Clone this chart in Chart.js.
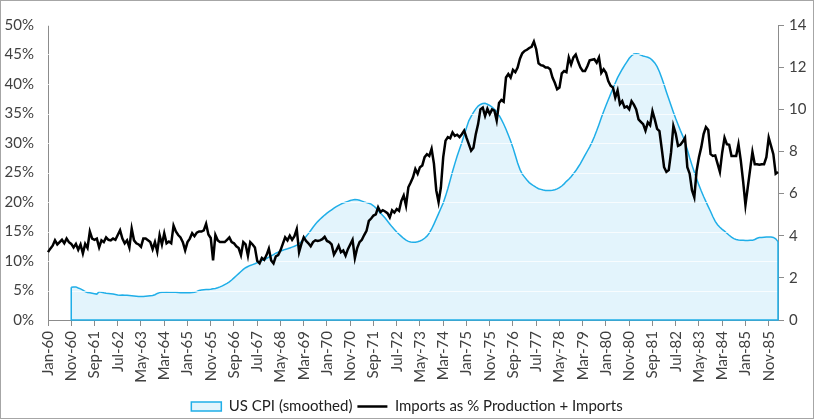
<!DOCTYPE html>
<html>
<head>
<meta charset="utf-8">
<script src="https://cdn.jsdelivr.net/npm/chart.js@4.4.1/dist/chart.umd.min.js"></script>
<style>
  html, body { margin: 0; padding: 0; background: #fff; }
  #wrap { width: 814px; height: 419px; box-sizing: border-box; border: 1px solid #a6a6a6; }
  canvas { display: block; }
</style>
</head>
<body>
<div id="wrap"><canvas id="myChart" width="812" height="417"></canvas></div>
<script>
// month names used to build the category labels Jan-60 ... Mar-86
const monthNames = ['Jan', 'Feb', 'Mar', 'Apr', 'May', 'Jun', 'Jul', 'Aug', 'Sep', 'Oct', 'Nov', 'Dec'];
const firstYear = 60;
const lastYear = 86;
const lastMonth = 2; // Mar-86

// Imports as % of production + imports (left axis, %)
const imports = [
  11.5, 12.1, 12.6, 13.5, 12.8, 13.2, 13.6, 13.0, 13.8, 13.2,
  12.9, 12.3, 12.9, 11.9, 12.8, 11.3, 12.9, 12.2, 15.0, 13.8,
  13.6, 13.8, 12.3, 13.5, 13.2, 14.0, 13.6, 13.5, 13.8, 13.6,
  14.4, 15.2, 13.8, 13.0, 13.5, 12.3, 15.5, 13.5, 13.0, 12.8,
  12.4, 13.8, 13.8, 13.5, 13.2, 12.0, 13.2, 11.6, 14.4, 12.8,
  14.7, 13.0, 13.3, 13.0, 16.0, 15.0, 14.4, 14.0, 13.2, 11.8,
  13.2, 13.8, 14.7, 14.2, 14.8, 15.0, 15.0, 15.2, 16.3, 14.5,
  13.9, 10.1, 14.4, 13.5, 13.2, 13.2, 13.2, 13.6, 14.0, 13.2,
  13.0, 12.5, 12.2, 11.0, 13.2, 12.8, 10.9, 13.2, 12.8, 12.3,
  10.0, 9.6, 10.5, 10.2, 11.0, 12.1, 10.1, 9.6, 10.8, 11.0,
  11.8, 12.9, 14.0, 13.5, 14.3, 13.6, 14.2, 15.4, 11.5, 12.9,
  14.0, 13.4, 13.0, 12.5, 13.2, 13.5, 13.4, 13.5, 13.7, 14.1,
  13.4, 13.2, 12.8, 11.1, 11.8, 12.6, 11.5, 11.8, 10.9, 12.0,
  12.8, 13.6, 10.5, 12.2, 13.2, 13.6, 14.4, 15.1, 16.8, 17.2,
  17.7, 17.9, 19.1, 18.3, 18.6, 18.4, 18.1, 17.4, 18.6, 18.2,
  18.8, 18.5, 20.2, 21.1, 19.4, 22.5, 23.3, 24.2, 25.6, 24.8,
  25.9, 26.2, 27.6, 28.1, 27.8, 29.0, 26.5, 22.0, 20.0, 22.5,
  27.6, 30.4, 31.0, 30.8, 31.8, 31.2, 31.4, 31.0, 31.5, 32.1,
  30.9, 29.8, 28.7, 29.2, 31.5, 33.2, 35.7, 36.0, 34.6, 35.8,
  34.9, 35.7, 35.5, 33.8, 36.8, 37.3, 37.0, 41.1, 41.7, 41.1,
  42.4, 42.0, 42.8, 44.3, 45.2, 45.6, 45.8, 46.1, 46.3, 47.2,
  45.9, 43.5, 43.2, 43.1, 42.8, 42.8, 42.5, 41.1, 40.2, 39.1,
  39.4, 41.8, 42.2, 42.0, 44.5, 43.3, 44.5, 45.0, 43.8, 42.8,
  42.2, 42.2, 43.0, 44.0, 44.1, 44.2, 43.6, 44.5, 41.9, 42.5,
  41.9, 40.5, 39.7, 39.4, 37.7, 38.9, 36.6, 37.1, 36.0, 36.2,
  35.7, 37.1, 36.5, 35.7, 34.0, 33.6, 33.2, 32.1, 33.5, 33.0,
  35.4, 34.0, 32.4, 32.0, 29.0, 25.9, 25.1, 25.4, 28.4, 32.9,
  31.6, 29.5, 29.7, 30.2, 30.9, 25.9, 24.8, 22.0, 20.8, 25.3,
  27.6, 29.3, 31.5, 32.7, 32.2, 28.1, 27.8, 27.9, 26.5, 25.1,
  28.4, 30.9, 29.8, 29.7, 27.8, 27.8, 27.8, 29.8, 27.0, 23.5,
  19.5, 22.5, 25.5, 28.5, 26.4, 26.4, 26.3, 26.4, 26.4, 27.6,
  30.9, 29.5, 28.1, 24.8, 25.1
];

// US CPI, smoothed (right axis)
const cpi = [
  null, null, null, null, null, null, null, null, null, null,
  1.55, 1.57, 1.57, 1.52, 1.48, 1.42, 1.35, 1.30, 1.29, 1.27,
  1.25, 1.23, 1.34, 1.32, 1.29, 1.27, 1.26, 1.25, 1.23, 1.21,
  1.19, 1.18, 1.19, 1.18, 1.17, 1.16, 1.15, 1.14, 1.13, 1.12,
  1.12, 1.12, 1.13, 1.14, 1.15, 1.16, 1.20, 1.26, 1.30, 1.32,
  1.32, 1.33, 1.32, 1.32, 1.32, 1.32, 1.30, 1.29, 1.29, 1.29,
  1.29, 1.29, 1.30, 1.32, 1.35, 1.40, 1.42, 1.44, 1.45, 1.45,
  1.46, 1.48, 1.50, 1.53, 1.57, 1.62, 1.68, 1.74, 1.81, 1.90,
  2.00, 2.10, 2.20, 2.30, 2.40, 2.48, 2.54, 2.59, 2.63, 2.67,
  2.72, 2.76, 2.81, 2.86, 2.92, 2.98, 3.04, 3.10, 3.17, 3.22,
  3.27, 3.31, 3.35, 3.38, 3.42, 3.46, 3.50, 3.55, 3.62, 3.72,
  3.84, 3.96, 4.10, 4.25, 4.40, 4.54, 4.67, 4.78, 4.88, 4.98,
  5.07, 5.15, 5.23, 5.31, 5.38, 5.44, 5.50, 5.55, 5.59, 5.63,
  5.67, 5.70, 5.72, 5.71, 5.68, 5.64, 5.60, 5.57, 5.54, 5.50,
  5.42, 5.32, 5.20, 5.08, 4.96, 4.84, 4.70, 4.56, 4.42, 4.30,
  4.18, 4.07, 3.97, 3.87, 3.79, 3.73, 3.70, 3.69, 3.69, 3.71,
  3.75, 3.80, 3.88, 3.98, 4.12, 4.32, 4.55, 4.80, 5.05, 5.30,
  5.55, 5.88, 6.24, 6.64, 7.05, 7.42, 7.78, 8.10, 8.42, 8.78,
  9.12, 9.45, 9.66, 9.85, 10.02, 10.15, 10.23, 10.27, 10.28, 10.24,
  10.18, 10.10, 10.00, 9.88, 9.72, 9.52, 9.30, 9.05, 8.78, 8.50,
  8.18, 7.82, 7.45, 7.15, 6.92, 6.78, 6.64, 6.52, 6.44, 6.36,
  6.29, 6.23, 6.20, 6.17, 6.15, 6.15, 6.15, 6.16, 6.18, 6.22,
  6.28, 6.36, 6.46, 6.58, 6.68, 6.80, 6.94, 7.08, 7.25, 7.42,
  7.62, 7.82, 8.02, 8.22, 8.44, 8.70, 8.98, 9.28, 9.60, 9.90,
  10.18, 10.45, 10.72, 11.00, 11.25, 11.50, 11.70, 11.90, 12.08, 12.25,
  12.42, 12.54, 12.62, 12.64, 12.62, 12.57, 12.53, 12.50, 12.47, 12.42,
  12.32, 12.20, 12.02, 11.78, 11.48, 11.16, 10.82, 10.50, 10.18, 9.86,
  9.56, 9.28, 9.00, 8.74, 8.46, 8.08, 7.70, 7.35, 7.02, 6.70,
  6.40, 6.12, 5.86, 5.62, 5.38, 5.15, 4.90, 4.68, 4.52, 4.40,
  4.30, 4.22, 4.12, 4.02, 3.93, 3.86, 3.82, 3.80, 3.79, 3.78,
  3.77, 3.77, 3.78, 3.78, 3.82, 3.88, 3.91, 3.92, 3.93, 3.94,
  3.94, 3.94, 3.92, 3.85, 3.72
];

// category labels
const labels = [];
for (let y = firstYear; y <= lastYear; y++) {
  for (let m = 0; m < 12; m++) {
    if (y === lastYear && m > lastMonth) break;
    labels.push(monthNames[m] + '-' + String(y).padStart(2, '0'));
  }
}

const labelEvery = 10;
const axisGray = '#8c8c8c';
const textGray = '#404040';
const cpiBlue = '#1faee8';
const cpiFill = '#e3f4fc';
const font = { family: 'Lato', size: 15 };

// white gridlines over the filled area + the area's outline edges (first/last vertical and base)
const areaEdges = {
  id: 'areaEdges',
  afterDatasetDraw(chart, args) {
    if (args.index !== 0) return;
    const ctx = chart.ctx;
    const area = chart.chartArea;
    const x = chart.scales.x, yl = chart.scales.y, yr = chart.scales.y2;

    ctx.save();
    ctx.strokeStyle = 'rgba(255,255,255,0.75)';
    ctx.lineWidth = 1;
    yl.ticks.forEach(t => {
      if (t.value === 0) return;
      const py = Math.round(yl.getPixelForValue(t.value)) + 0.5;
      ctx.beginPath();
      ctx.moveTo(area.left, py);
      ctx.lineTo(area.right, py);
      ctx.stroke();
    });

    const first = cpi.findIndex(v => v !== null);
    const last = cpi.length - 1;
    ctx.strokeStyle = cpiBlue;
    ctx.lineWidth = 1.5;
    ctx.beginPath();
    ctx.moveTo(x.getPixelForValue(first), yr.getPixelForValue(cpi[first]));
    ctx.lineTo(x.getPixelForValue(first), yr.getPixelForValue(0));
    ctx.lineTo(x.getPixelForValue(last), yr.getPixelForValue(0));
    ctx.lineTo(x.getPixelForValue(last), yr.getPixelForValue(cpi[last]));
    ctx.stroke();
    ctx.restore();
  }
};

const ctx = document.getElementById('myChart');

new Chart(ctx, {
  type: 'line',
  data: {
    labels: labels,
    datasets: [
      {
        label: 'US CPI (smoothed)',
        data: cpi,
        yAxisID: 'y2',
        fill: 'origin',
        backgroundColor: cpiFill,
        borderColor: cpiBlue,
        borderWidth: 1.5,
        pointRadius: 0,
        pointStyle: 'rect',
        tension: 0,
        order: 2
      },
      {
        label: 'Imports as % Production + Imports',
        data: imports,
        yAxisID: 'y',
        fill: false,
        borderColor: '#000000',
        backgroundColor: '#000000',
        borderWidth: 2.5,
        pointRadius: 0,
        pointStyle: 'line',
        tension: 0,
        order: 1
      }
    ]
  },
  options: {
    responsive: false,
    animation: false,
    layout: { padding: { top: 24, left: 0, right: 0, bottom: -6 } },
    plugins: {
      tooltip: { enabled: false },
      legend: {
        position: 'bottom',
        labels: {
          usePointStyle: true,
          pointStyleWidth: 30,
          boxHeight: 9,
          padding: 5,
          color: '#222222',
          font: font,
          sort: (a, b) => a.datasetIndex - b.datasetIndex
        }
      }
    },
    scales: {
      x: {
        offset: false,
        afterFit: (scale) => { scale.height = 74; },
        grid: {
          drawOnChartArea: false,
          drawTicks: true,
          tickLength: 6,
          color: (c) => (c.index % labelEvery === 0 ? axisGray : 'rgba(0,0,0,0)')
        },
        border: { display: true, color: axisGray, width: 1 },
        ticks: {
          autoSkip: false,
          maxRotation: 90,
          minRotation: 90,
          padding: 5,
          color: textGray,
          font: font,
          callback: (value, index) => (index % labelEvery === 0 ? labels[index] : '')
        }
      },
      y: {
        position: 'left',
        min: 0,
        max: 50,
        afterFit: (scale) => { scale.width = 47; },
        grid: { drawOnChartArea: false, drawTicks: false },
        border: { display: true, color: axisGray, width: 1 },
        ticks: {
          stepSize: 5,
          padding: 14,
          color: textGray,
          font: font,
          callback: (v) => v + '%'
        }
      },
      y2: {
        position: 'right',
        min: 0,
        max: 14,
        afterFit: (scale) => { scale.width = 35; },
        grid: { drawOnChartArea: false, drawTicks: true, tickLength: 6, color: axisGray },
        border: { display: true, color: axisGray, width: 1 },
        ticks: {
          stepSize: 2,
          padding: 5,
          color: textGray,
          font: font
        }
      }
    }
  },
  plugins: [areaEdges]
});
</script>
</body>
</html>
